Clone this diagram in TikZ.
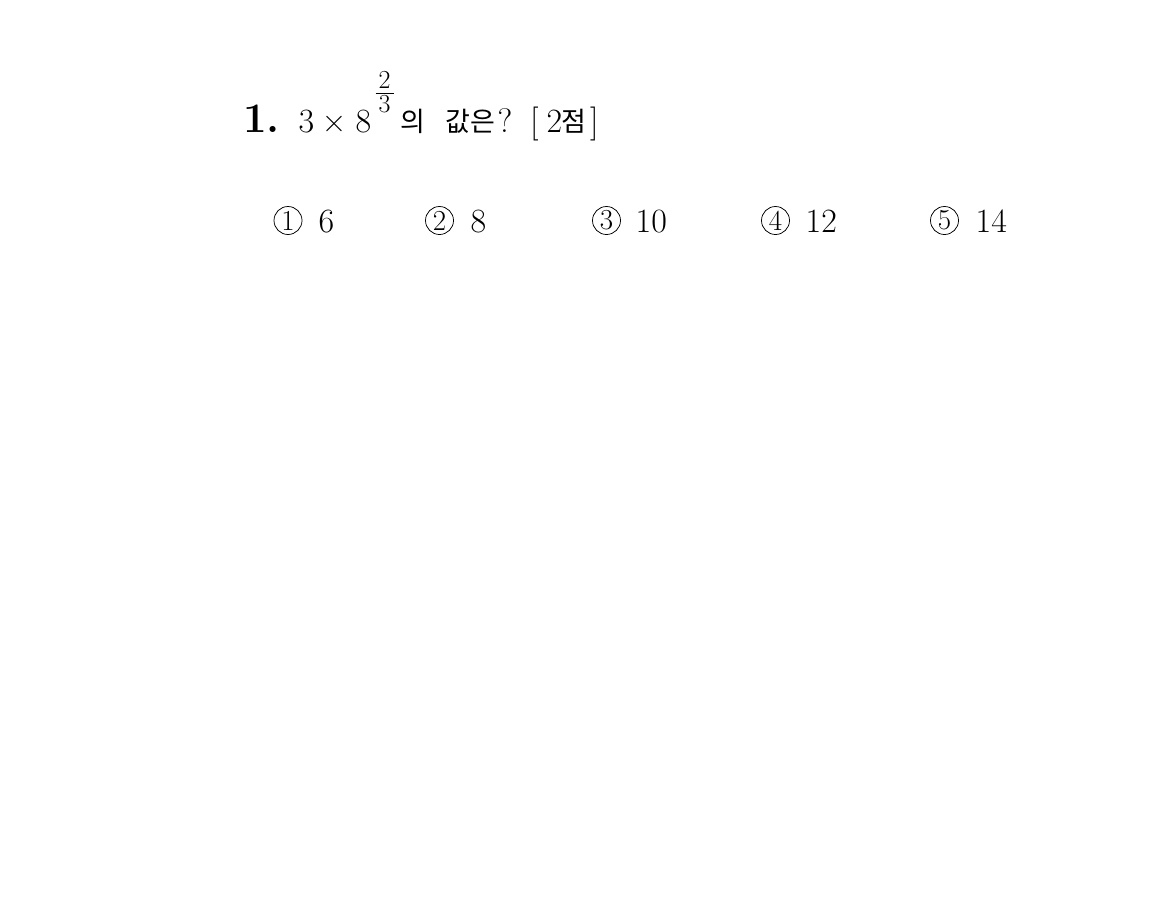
\documentclass[tikz,border=0pt]{standalone}
\usepackage{fontspec}
\newfontfamily\kr{Noto Sans CJK KR}
\begin{document}
\begin{tikzpicture}[x=1pt,y=-1pt,
  txt/.style={inner sep=0pt, anchor=base west, font=\fontsize{34}{40}\selectfont},
  numtxt/.style={inner sep=0pt, anchor=base west, font=\fontsize{42}{50}\selectfont\bfseries},
  kor/.style={inner sep=0pt, anchor=base west, font=\kr\fontsize{27}{32}\selectfont},
  fracnum/.style={inner sep=0pt, anchor=base, font=\fontsize{26}{30}\selectfont},
  circnum/.style={circle, draw, line width=0.75pt, minimum size=28pt, inner sep=0pt, font=\fontsize{29}{29}\selectfont}]
\useasboundingbox (0,0) rectangle (1164,905);
\fill[white] (0,0) rectangle (1164,905);
% question line
\node[numtxt] (qnum) at (243,132) {1.};
\node[txt] (three) at (298.5,132) {3};
\node[inner sep=0pt, anchor=base, font=\fontsize{34}{40}\selectfont] (times) at (334,132) {×};
\node[txt] (eight) at (355.5,132) {8};
\node[fracnum] (fnum) at (384.5,88.5) {2};
\node[fracnum] (fden) at (384.5,112) {3};
\coordinate (barL) at (375.5,93.5);
\coordinate (barR) at (393.5,93.5);
\draw[line width=0.9pt] (barL) -- (barR);
\node[kor] (ui) at (400.5,131) {의};
\node[kor] (gap) at (445,131) {값은};
\node[txt] (qm) at (497.5,132) {?};
\node[txt] (lb) at (530,132) {[};
\node[txt] (two) at (546.5,132) {2};
\node[kor] (jeom) at (561.5,131) {점};
\node[txt] (rb) at (590,132) {]};
% choices
\node[circnum] (c1) at (288,220.5) {1};
\node[txt] (a1) at (318.5,232) {6};
\node[circnum] (c2) at (439.5,220.5) {2};
\node[txt] (a2) at (470.5,232) {8};
\node[circnum] (c3) at (606.5,220.5) {3};
\node[txt] (a3) at (635.5,232) {10};
\node[circnum] (c4) at (775.5,220.5) {4};
\node[txt] (a4) at (805.5,232) {12};
\node[circnum] (c5) at (944.5,220.5) {5};
\node[txt] (a5) at (975.5,232) {14};
\end{tikzpicture}
\end{document}
